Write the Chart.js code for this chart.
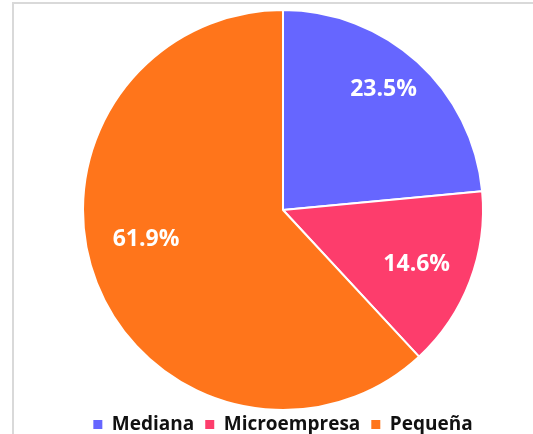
<!DOCTYPE html>
<html>
<head>
<meta charset="utf-8">
<script src="https://cdn.jsdelivr.net/npm/chart.js@4"></script>
<style>
  html, body { margin: 0; padding: 0; background: #fff; }
  #marco { position: absolute; left: 12px; top: 2px; width: 530px; height: 440px;
           border-top: 2px solid #d9d9d9; border-left: 2px solid #d9d9d9; }
  #caja { position: absolute; left: 0; top: 0; width: 533px; height: 434px; }
</style>
</head>
<body>
<div id="marco"></div>
<div id="caja"><canvas id="chart"></canvas></div>
<script>
// datos del gráfico
const categorias = ['Mediana', 'Microempresa', 'Pequeña'];
const porcentajes = [23.5, 14.6, 61.9];
const etiquetas = ['23.5%', '14.6%', '61.9%'];

const colores = ['#6666ff', '#fd3d6c', '#ff751b'];
// ajuste de posición de las etiquetas (fracción del radio, giro en grados)
const radioEtiqueta = [0.79, 0.72, 0.70];
const giroEtiqueta = [-2.8, 0.9, 9.5];

const etiquetasPlugin = {
  id: 'etiquetas',
  afterDatasetsDraw(chart) {
    const ctx = chart.ctx;
    const meta = chart.getDatasetMeta(0);
    ctx.save();
    ctx.fillStyle = '#ffffff';
    ctx.font = 'bold 23px "Open Sans"';
    ctx.textAlign = 'center';
    ctx.textBaseline = 'middle';
    meta.data.forEach((arc, i) => {
      const p = arc.getProps(['x', 'y', 'startAngle', 'endAngle', 'outerRadius'], true);
      const ang = (p.startAngle + p.endAngle) / 2 + giroEtiqueta[i] * Math.PI / 180;
      const r = p.outerRadius * radioEtiqueta[i];
      ctx.fillText(etiquetas[i], p.x + Math.cos(ang) * r, p.y + Math.sin(ang) * r + 1);
    });
    ctx.restore();
  }
};

// cuadros de la leyenda sin borde blanco
const generarEtiquetas = Chart.overrides.pie.plugins.legend.labels.generateLabels;

const ctx = document.getElementById('chart').getContext('2d');
let myChart = new Chart(ctx, {
  type: 'pie',
  data: {
    labels: categorias,
    datasets: [{
      data: porcentajes,
      backgroundColor: colores,
      borderColor: '#ffffff',
      borderWidth: 2,
      radius: 200,
      clip: false
    }]
  },
  options: {
    responsive: true,
    maintainAspectRatio: false,
    animation: false,
    layout: { padding: { top: 16, left: 33, right: 0, bottom: 0 } },
    plugins: {
      tooltip: { enabled: false },
      legend: {
        position: 'bottom',
        maxHeight: 30,
        labels: {
          color: '#111111',
          boxWidth: 9,
          boxHeight: 9,
          padding: 11,
          font: { family: 'Open Sans', size: 19, weight: 'bold' },
          generateLabels: (chart) => generarEtiquetas(chart).map(item => ({ ...item, lineWidth: 0 }))
        }
      }
    }
  },
  plugins: [etiquetasPlugin]
});
</script>
</body>
</html>
